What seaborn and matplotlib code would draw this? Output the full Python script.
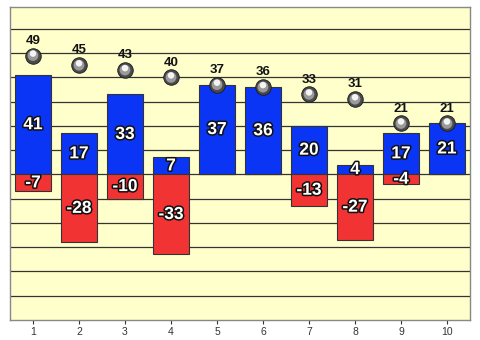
import matplotlib
matplotlib.use("Agg")
import matplotlib.pyplot as plt
import matplotlib.patheffects as pe
import seaborn as sns
import pandas as pd

categories = ["1", "2", "3", "4", "5", "6", "7", "8", "9", "10"]
positive = [41, 17, 33, 7, 37, 36, 20, 4, 17, 21]
negative = [-7, -28, -10, -33, 0, 0, -13, -27, -4, 0]
totals = [49, 45, 43, 40, 37, 36, 33, 31, 21, 21]

sns.set_theme(style="white")
plt.rcParams['font.family'] = ['Liberation Sans', 'DejaVu Sans']

fig = plt.figure(figsize=(4.8, 3.4), dpi=100)
ax = fig.add_axes([10/480, 20/340, 460/480, 313/340])
ax.set_facecolor("#FFFFCC")

df = pd.DataFrame({"cat": categories, "pos": positive, "neg": negative, "tot": totals})
df["hi"] = df["tot"] + 0.8

sns.barplot(data=df, x="cat", y="pos", color="#0A35F5", saturation=1, width=0.78,
            edgecolor="#333333", linewidth=0.8, ax=ax, zorder=3)
sns.barplot(data=df, x="cat", y="neg", color="#F23333", saturation=1, width=0.78,
            edgecolor="#333333", linewidth=0.8, ax=ax, zorder=3)

# sphere markers
sns.scatterplot(data=df, x="cat", y="tot", s=125, color="#4A4A4A", edgecolor="#1A1A1A",
                linewidth=0.6, ax=ax, zorder=5, legend=False)
sns.scatterplot(data=df, x="cat", y="tot", s=60, color="#9A9A9A", edgecolor="none",
                ax=ax, zorder=6, legend=False)
sns.scatterplot(data=df, x="cat", y="hi", s=22, color="#F4F4F4", edgecolor="none",
                ax=ax, zorder=7, legend=False)

stroke = [pe.withStroke(linewidth=2.2, foreground="#111111")]
for i, (p, n, t) in enumerate(zip(positive, negative, totals)):
    if p:
        ax.text(i, p / 2, str(p), ha="center", va="center", color="white",
                fontsize=12.5, fontweight="bold", path_effects=stroke, zorder=8)
    if n:
        ax.text(i, n / 2, str(n), ha="center", va="center", color="white",
                fontsize=12.5, fontweight="bold", path_effects=stroke, zorder=8)
    ax.text(i, t + 3.6, str(t), ha="center", va="bottom", color="#111111",
            fontsize=9.5, fontweight="bold", zorder=8)

ax.set_ylim(-60, 69)
ax.set_xlim(-0.5, 9.5)
ax.set_yticks(range(-50, 70, 10))
ax.set_yticklabels([])
ax.tick_params(axis="y", length=0)
ax.yaxis.grid(True, color="#333333", linewidth=0.9, zorder=0)
ax.set_axisbelow(True)
ax.tick_params(axis="x", length=3, width=0.8, colors="#333333", labelsize=7.5, pad=2, bottom=True)
ax.set_xlabel("")
ax.set_ylabel("")
for s in ax.spines.values():
    s.set_color("#888888")
    s.set_linewidth(1.0)

fig.savefig("out.png", dpi=100)
